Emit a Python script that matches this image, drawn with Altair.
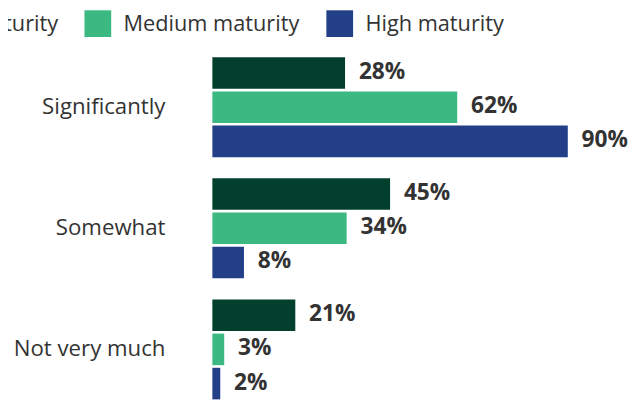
import altair as alt
import pandas as pd

categories = ["Significantly", "Somewhat", "Not very much"]
series = ["Low maturity", "Medium maturity", "High maturity"]
# percentages shown in the labels, per category (Low, Medium, High)
shown_pct = {
    "Significantly": [28, 62, 90],
    "Somewhat": [45, 34, 8],
    "Not very much": [21, 3, 2],
}
# bar lengths as drawn in the picture (the 28% bar is drawn longer)
bar_pct = {
    "Significantly": [33.6, 62, 90],
    "Somewhat": [45, 34, 8],
    "Not very much": [21, 3, 2],
}
colors = ["#023f2d", "#3cb983", "#233f88"]

rows = []
for c in categories:
    for i, s in enumerate(series):
        rows.append({"cat": c, "series": s, "len": bar_pct[c][i],
                     "label": f"{shown_pct[c][i]}%"})
df = pd.DataFrame(rows)

FONT = "Open Sans"

y = alt.Y("cat:N", sort=categories,
          scale=alt.Scale(paddingInner=0.1745, paddingOuter=0.08725),
          axis=alt.Axis(title=None, domain=False, ticks=False, labelPadding=48,
                        labelFontSize=22.5, labelFont=FONT, labelColor="#333333",
                        labelFontWeight="normal", labelLimit=300))
yoff = alt.YOffset("series:N", sort=series,
                   scale=alt.Scale(paddingInner=0.0765, paddingOuter=0))
x = alt.X("len:Q", scale=alt.Scale(domain=[0, 100]), axis=None)

bars = alt.Chart(df).mark_bar(cornerRadius=0).encode(
    y=y, yOffset=yoff, x=x,
    color=alt.Color("series:N", sort=series,
                    scale=alt.Scale(domain=series, range=colors),
                    legend=alt.Legend(title=None, orient="none", direction="horizontal",
                                      legendX=-331, legendY=-37.5,
                                      symbolType="square", symbolSize=733,
                                      symbolStrokeWidth=0, symbolOpacity=1,
                                      labelFont=FONT, labelFontSize=22,
                                      labelColor="#333333", labelOffset=12,
                                      labelLimit=400,
                                      columnPadding=26, padding=0)),
)

labels = alt.Chart(df).mark_text(align="left", baseline="middle", dx=14, dy=-1,
                                 font=FONT, fontSize=23, fontWeight="bold",
                                 color="#333333").encode(
    y=y, yOffset=yoff, x=x, text="label:N")

chart = (bars + labels).properties(
    width=400, height=368,
    autosize=alt.AutoSizeParams(type="none"),
    padding={"left": 207, "top": 36.5, "right": 22, "bottom": 2},
).configure_view(stroke=None)

chart.save("out.html", embed_options={"renderer": "svg", "actions": False})
